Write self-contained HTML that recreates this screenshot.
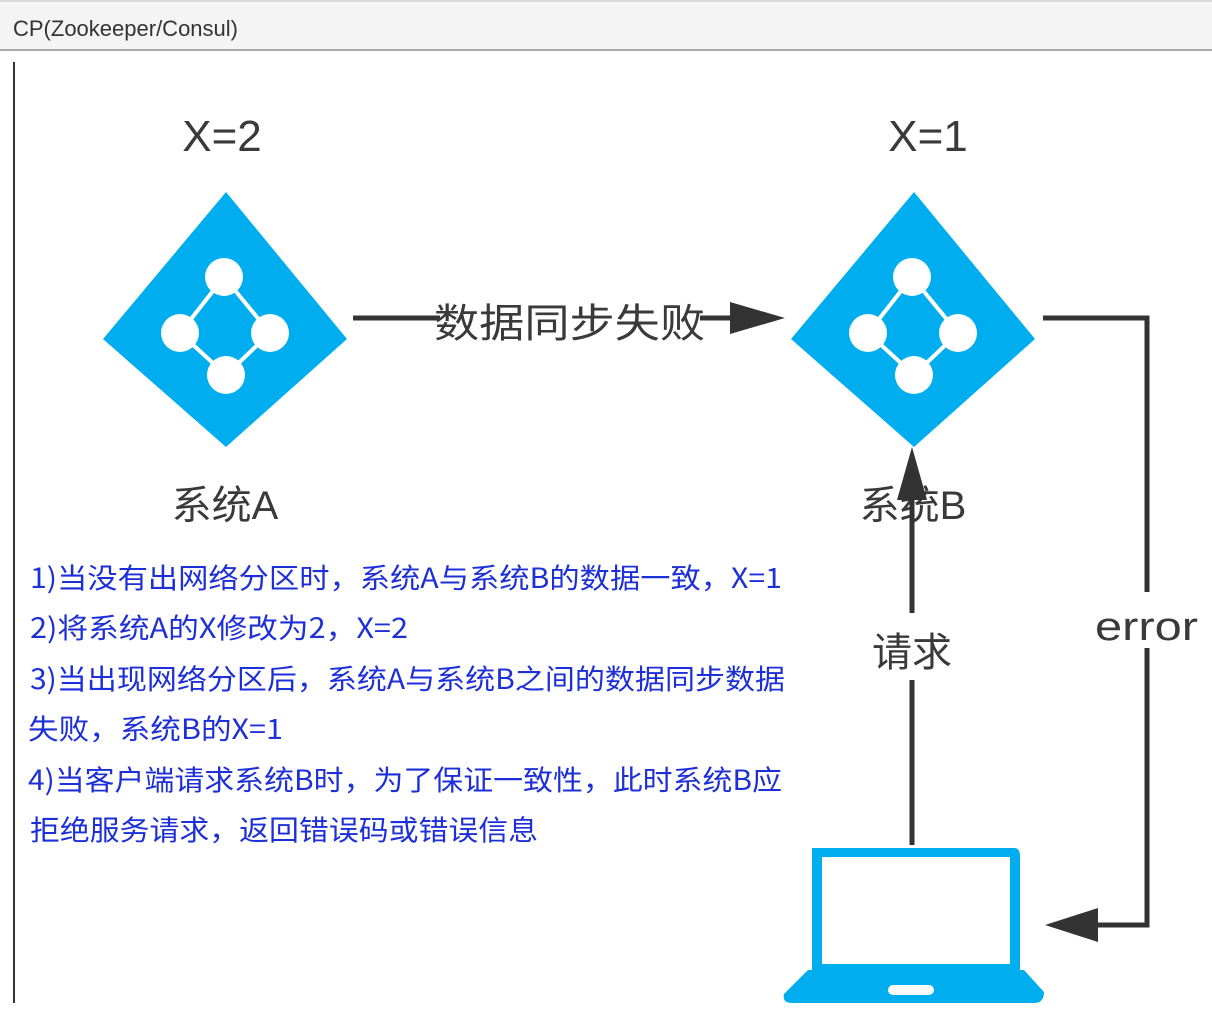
<!DOCTYPE html>
<html><head><meta charset="utf-8"><style>
html,body{margin:0;padding:0;background:#fff;}
svg{display:block;}
</style></head><body>
<svg width="1212" height="1016" viewBox="0 0 1212 1016" xmlns="http://www.w3.org/2000/svg">
<rect x="0" y="0" width="1212" height="50" fill="#f4f4f4"/>
<rect x="0" y="0" width="1212" height="2" fill="#d8d8d8"/>
<line x1="0" y1="50" x2="1212" y2="50" stroke="#a8a8a8" stroke-width="2"/>
<text x="13" y="36" font-family="Liberation Sans, sans-serif" font-size="22" fill="#333">CP(Zookeeper/Consul)</text>
<line x1="14" y1="62" x2="14" y2="1003" stroke="#333" stroke-width="2"/>

<g font-family="Liberation Sans, 'Noto Sans CJK SC', sans-serif" fill="#3a3a3a">
<text x="222" y="151" font-size="44" text-anchor="middle">X=2</text>
<text x="928" y="151" font-size="44" text-anchor="middle">X=1</text>
<text x="225" y="519" font-size="40" text-anchor="middle">系统A</text>
<text x="913" y="519" font-size="40" text-anchor="middle">系统B</text>
</g>

<!-- diamonds -->
<g id="dA">
<polygon points="226,192 347,339 226,447 103,339" fill="#00aeef"/>
<polygon points="224,277 270,333 226,375 180,333" fill="none" stroke="#fff" stroke-width="4"/>
<circle cx="224" cy="277" r="19" fill="#fff"/>
<circle cx="180" cy="333" r="19" fill="#fff"/>
<circle cx="270" cy="333" r="19" fill="#fff"/>
<circle cx="226" cy="375" r="19" fill="#fff"/>
</g>
<g transform="translate(688,0)">
<polygon points="226,192 347,339 226,447 103,339" fill="#00aeef"/>
<polygon points="224,277 270,333 226,375 180,333" fill="none" stroke="#fff" stroke-width="4"/>
<circle cx="224" cy="277" r="19" fill="#fff"/>
<circle cx="180" cy="333" r="19" fill="#fff"/>
<circle cx="270" cy="333" r="19" fill="#fff"/>
<circle cx="226" cy="375" r="19" fill="#fff"/>
</g>

<!-- sync arrow -->
<line x1="353" y1="318" x2="440" y2="318" stroke="#333" stroke-width="5"/>
<line x1="700" y1="318" x2="740" y2="318" stroke="#333" stroke-width="5"/>
<polygon points="785,318 730,302 730,334" fill="#333"/>
<text x="434" y="337" font-family="'Noto Sans CJK SC', sans-serif" font-size="40" fill="#3a3a3a" textLength="271" lengthAdjust="spacingAndGlyphs">数据同步失败</text>

<!-- request arrow -->
<line x1="912" y1="845" x2="912" y2="680" stroke="#333" stroke-width="5"/>
<line x1="912" y1="613" x2="912" y2="495" stroke="#333" stroke-width="5"/>
<polygon points="912,447 897,500 927,500" fill="#333"/>
<text x="912" y="666" font-family="'Noto Sans CJK SC', sans-serif" font-size="40" fill="#3a3a3a" text-anchor="middle">请求</text>

<!-- error arrow -->
<polyline points="1043,318 1147,318 1147,592" fill="none" stroke="#333" stroke-width="5"/>
<polyline points="1147,648 1147,925 1095,925" fill="none" stroke="#333" stroke-width="5"/>
<polygon points="1045,925 1098,908 1098,942" fill="#333"/>
<text x="1095" y="640" font-family="Liberation Sans, sans-serif" font-size="40" fill="#3a3a3a" textLength="103" lengthAdjust="spacingAndGlyphs">error</text>

<!-- laptop -->
<path d="M812,848 L1014,848 Q1020,848 1020,856 L1020,970 L812,970 Z" fill="#00aeef"/>
<rect x="822" y="857" width="188" height="107" fill="#fff"/>
<path d="M808,970 L1024,970 L1044,992 Q1044,1003 1034,1003 L792,1003 Q782,1003 784,994 Z" fill="#00aeef"/>
<rect x="888" y="985" width="46" height="10" rx="5" fill="#fff"/>

<!-- text -->
<g font-family="'Noto Sans CJK SC', sans-serif" font-size="28" fill="#1c2fd8" lengthAdjust="spacingAndGlyphs">
<text x="30" y="588" textLength="752" lengthAdjust="spacingAndGlyphs">1)当没有出网络分区时，系统A与系统B的数据一致，X=1</text>
<text x="30" y="638" textLength="378" lengthAdjust="spacingAndGlyphs">2)将系统A的X修改为2，X=2</text>
<text x="30" y="689" textLength="755" lengthAdjust="spacingAndGlyphs">3)当出现网络分区后，系统A与系统B之间的数据同步数据</text>
<text x="28" y="739" textLength="255" lengthAdjust="spacingAndGlyphs">失败，系统B的X=1</text>
<text x="28" y="790" textLength="754" lengthAdjust="spacingAndGlyphs">4)当客户端请求系统B时，为了保证一致性，此时系统B应</text>
<text x="30" y="840" textLength="508" lengthAdjust="spacingAndGlyphs">拒绝服务请求，返回错误码或错误信息</text>
</g>
</svg>
</body></html>
